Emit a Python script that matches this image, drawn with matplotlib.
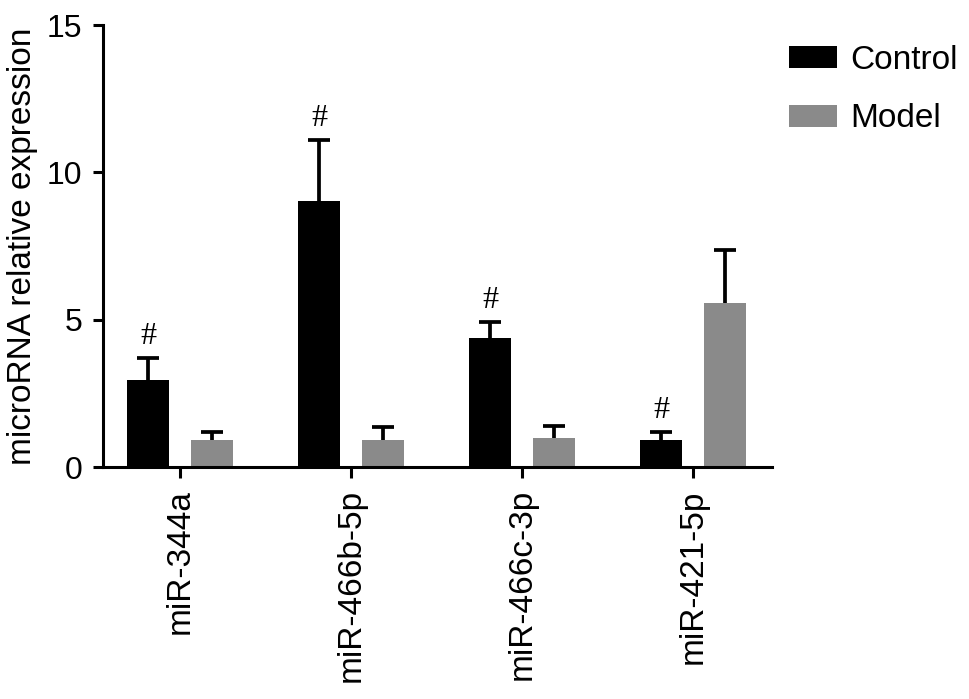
import numpy as np
import matplotlib.pyplot as plt

plt.rcParams['font.family'] = ['Liberation Sans', 'DejaVu Sans']

# 数据
mirnas = ['miR-344a', 'miR-466b-5p', 'miR-466c-3p', 'miR-421-5p']
control_mean = [2.95, 9.03, 4.37, 0.92]
control_sem = [0.76, 2.07, 0.56, 0.26]
model_mean = [0.92, 0.92, 1.00, 5.58]
model_sem = [0.28, 0.43, 0.39, 1.78]
sig_marks = ['#', '#', '#', '#']  # 标在 Control 柱上方

fig = plt.figure(figsize=(9.69, 6.99), dpi=100)
ax = fig.add_axes([0.1063, 0.3319, 0.6904, 0.6323])

x = np.arange(len(mirnas))
w = 0.245
off = 0.187
lw = 2.2
elw = 2.7

ax.bar(x - off, control_mean, w, color='black', label='Control', zorder=2)
ax.bar(x + off, model_mean, w, color='#8a8a8a', label='Model', zorder=2)
# 误差线放在柱子后面，只露出上半部分
ax.errorbar(x - off, control_mean, yerr=control_sem, fmt='none', ecolor='black',
            elinewidth=elw, capsize=8, capthick=elw, zorder=1)
ax.errorbar(x + off, model_mean, yerr=model_sem, fmt='none', ecolor='black',
            elinewidth=elw, capsize=8, capthick=elw, zorder=1)

# 显著性标记
for xi, m, s, mark in zip(x, control_mean, control_sem, sig_marks):
    ax.annotate(mark, (xi - off, m + s), xytext=(0, 5), textcoords='offset points',
                ha='center', va='bottom', fontsize=23, family='Liberation Serif')

ax.set_xlim(-0.45, 3.46)
ax.set_ylim(0, 15)
ax.set_yticks([0, 5, 10, 15])
ax.set_xticks(x)
ax.set_xticklabels(mirnas, rotation=90, fontsize=24)
ax.tick_params(axis='y', labelsize=23, width=lw, length=7, pad=8)
ax.tick_params(axis='x', width=lw, length=8, pad=8)
ax.set_ylabel('microRNA relative expression', fontsize=24, labelpad=6)

for sp in ['top', 'right']:
    ax.spines[sp].set_visible(False)
for sp in ['left', 'bottom']:
    ax.spines[sp].set_linewidth(lw)
    ax.spines[sp].set_zorder(3)

fig.legend(loc='upper left', bbox_to_anchor=(0.8, 0.955), frameon=False,
           fontsize=24, handlelength=1.45, handleheight=0.65,
           handletextpad=0.4, labelspacing=0.83, borderaxespad=0)

fig.savefig('out.png', dpi=100)
